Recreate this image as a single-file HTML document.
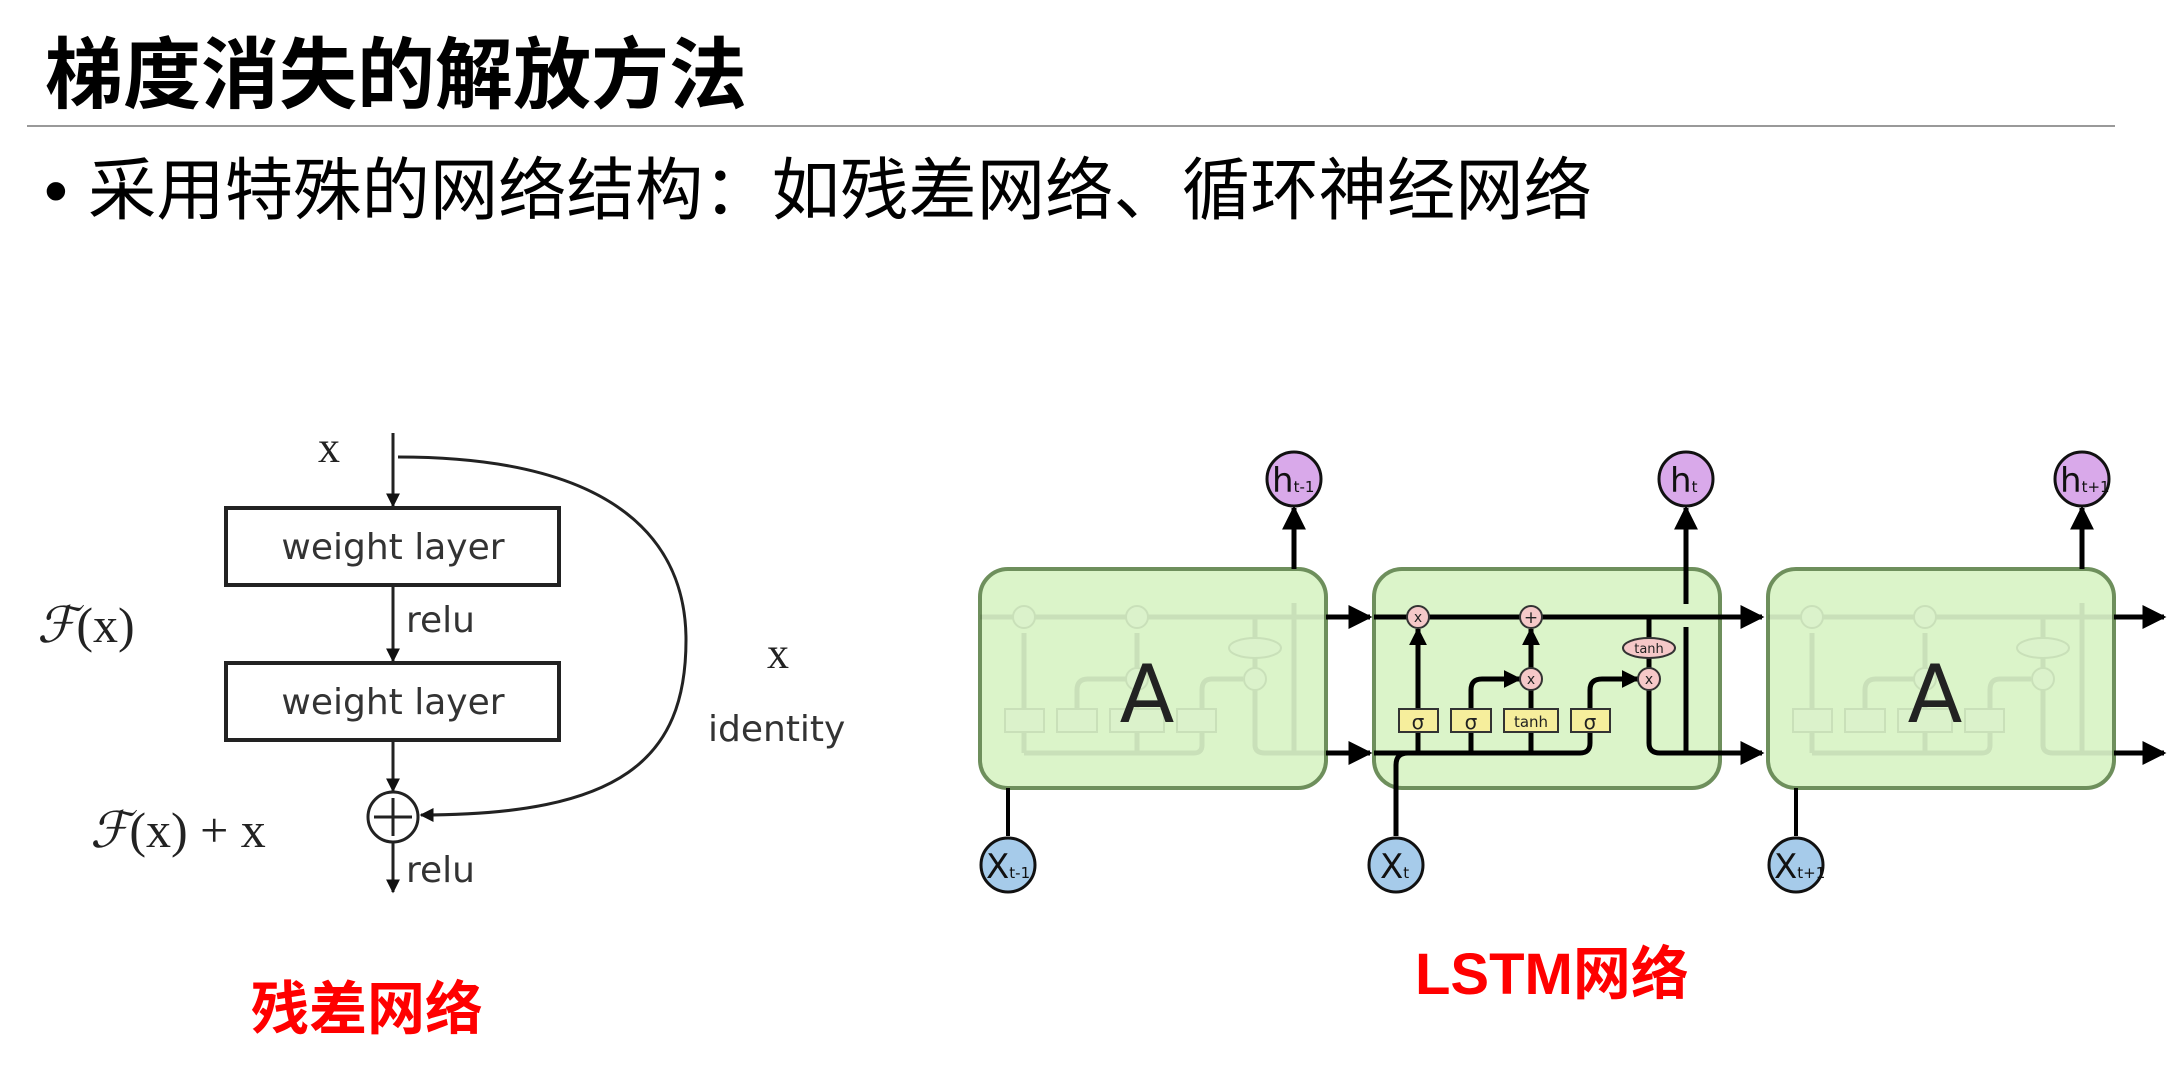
<!DOCTYPE html>
<html><head><meta charset="utf-8"><style>
html,body{margin:0;padding:0;background:#fff;}
body{width:2179px;height:1068px;overflow:hidden;position:relative;font-family:"Liberation Sans","Noto Sans CJK SC",sans-serif;}
svg{position:absolute;left:0;top:0;}
</style></head><body>
<svg width="2179" height="1068" viewBox="0 0 2179 1068" xmlns="http://www.w3.org/2000/svg">
<defs>
<marker id="ah" markerWidth="14" markerHeight="22" refX="9" refY="5" orient="auto" markerUnits="userSpaceOnUse" viewBox="0 0 10 10"><path d="M0,0 L10,5 L0,10 z" fill="#111"/></marker>
<marker id="big" viewBox="0 0 10 10" refX="9" refY="5" markerWidth="24" markerHeight="26" orient="auto" markerUnits="userSpaceOnUse"><path d="M0,0 L10,5 L0,10 z" fill="#000"/></marker>
<marker id="sm" viewBox="0 0 10 10" refX="9" refY="5" markerWidth="18" markerHeight="20" orient="auto" markerUnits="userSpaceOnUse"><path d="M0,0 L10,5 L0,10 z" fill="#000"/></marker>
</defs>

<text x="45" y="102" font-family="'Liberation Sans','Noto Sans CJK SC',sans-serif" font-size="78" font-weight="bold" fill="#000" textLength="702" lengthAdjust="spacingAndGlyphs">梯度消失的解放方法</text>
<line x1="27" y1="126" x2="2115" y2="126" stroke="#999" stroke-width="2"/>
<text x="44" y="214" font-family="'Liberation Sans','Noto Sans CJK SC',sans-serif" font-size="68" fill="#000">•</text>
<text x="88" y="214" font-family="'Liberation Sans','Noto Sans CJK SC',sans-serif" font-size="68" fill="#000" textLength="1504" lengthAdjust="spacingAndGlyphs">采用特殊的网络结构：如残差网络、循环神经网络</text>

<g stroke="#222" fill="none">
<line x1="393" y1="433" x2="393" y2="506" stroke-width="3" marker-end="url(#ah)"/>
<rect x="226" y="508" width="333" height="77" stroke-width="4" fill="#fff"/>
<line x1="393" y1="587" x2="393" y2="661" stroke-width="3" marker-end="url(#ah)"/>
<rect x="226" y="663" width="333" height="77" stroke-width="4" fill="#fff"/>
<line x1="393" y1="742" x2="393" y2="791" stroke-width="3" marker-end="url(#ah)"/>
<circle cx="393" cy="817" r="25" stroke-width="3" fill="#fff"/>
<line x1="393" y1="798" x2="393" y2="836" stroke-width="3"/>
<line x1="374" y1="817" x2="412" y2="817" stroke-width="3"/>
<line x1="393" y1="842" x2="393" y2="892" stroke-width="3" marker-end="url(#ah)"/>
<path d="M398,457 C640,457 686,560 686,640 C686,760 620,815 421,815" stroke-width="3" marker-end="url(#ah)"/>
</g>
<g font-family="'Liberation Serif',serif" fill="#222">
<text x="318" y="462" font-size="44">x</text>
<text x="37" y="642" font-size="50" font-style="italic">ℱ<tspan font-style="normal">(x)</tspan></text>
<text x="90" y="847" font-size="50" font-style="italic">ℱ<tspan font-style="normal">(x) + x</tspan></text>
<text x="767" y="668" font-size="44">x</text>
</g>
<g font-family="'DejaVu Sans','Liberation Sans',sans-serif" fill="#333" font-size="36">
<text x="393" y="559" text-anchor="middle">weight layer</text>
<text x="393" y="714" text-anchor="middle">weight layer</text>
<text x="406" y="632">relu</text>
<text x="406" y="882">relu</text>
<text x="708" y="741">identity</text>
</g>
<text x="251" y="1029" font-family="'Liberation Sans','Noto Sans CJK SC',sans-serif" font-size="58" font-weight="bold" fill="#ff0000">残差网络</text>
<text x="1415" y="994" font-family="'Liberation Sans','Noto Sans CJK SC',sans-serif" font-size="58" font-weight="bold" fill="#ff0000">LSTM网络</text>

<g fill="#dbf4c9" stroke="#6e8f5c" stroke-width="4">
<rect x="980" y="569" width="346" height="219" rx="28"/>
<rect x="1374" y="569" width="346" height="219" rx="28"/>
<rect x="1768" y="569" width="346" height="219" rx="28"/>
</g>

<g opacity="0.08" stroke="#000" fill="none" stroke-width="5">
<g>
<line x1="980" y1="617" x2="1326" y2="617"/>
<line x1="1024" y1="753" x2="1194" y2="753"/>
<path d="M1194,753 Q1202,753 1202,745 L1202,690 Q1202,679 1212,679 L1243,679"/>
<path d="M1077,732 L1077,690 Q1077,679 1088,679 L1126,679"/>
<line x1="1024" y1="753" x2="1024" y2="633"/>
<line x1="1137" y1="753" x2="1137" y2="633"/>
<path d="M1255,617 L1255,745 Q1255,753 1265,753 L1326,753"/>
<line x1="1294" y1="753" x2="1294" y2="603"/>
<g fill="#ddd" stroke-width="2"><rect x="1005" y="709" width="39" height="23"/><rect x="1057" y="709" width="40" height="23"/><rect x="1110" y="709" width="54" height="23"/><rect x="1177" y="709" width="39" height="23"/>
<circle cx="1024" cy="617" r="11"/><circle cx="1137" cy="617" r="11"/><circle cx="1137" cy="679" r="11"/><circle cx="1255" cy="679" r="11"/><ellipse cx="1255" cy="648" rx="26" ry="10"/></g>
</g>
<g transform="translate(788,0)">
<line x1="980" y1="617" x2="1326" y2="617"/>
<line x1="1024" y1="753" x2="1194" y2="753"/>
<path d="M1194,753 Q1202,753 1202,745 L1202,690 Q1202,679 1212,679 L1243,679"/>
<path d="M1077,732 L1077,690 Q1077,679 1088,679 L1126,679"/>
<line x1="1024" y1="753" x2="1024" y2="633"/>
<line x1="1137" y1="753" x2="1137" y2="633"/>
<path d="M1255,617 L1255,745 Q1255,753 1265,753 L1326,753"/>
<line x1="1294" y1="753" x2="1294" y2="603"/>
<g fill="#ddd" stroke-width="2"><rect x="1005" y="709" width="39" height="23"/><rect x="1057" y="709" width="40" height="23"/><rect x="1110" y="709" width="54" height="23"/><rect x="1177" y="709" width="39" height="23"/>
<circle cx="1024" cy="617" r="11"/><circle cx="1137" cy="617" r="11"/><circle cx="1137" cy="679" r="11"/><circle cx="1255" cy="679" r="11"/><ellipse cx="1255" cy="648" rx="26" ry="10"/></g>
</g>
</g>
<text x="1147" y="722" font-family="'DejaVu Sans','Liberation Sans',sans-serif" font-size="80" fill="#222" text-anchor="middle">A</text>
<text x="1935" y="722" font-family="'DejaVu Sans','Liberation Sans',sans-serif" font-size="80" fill="#222" text-anchor="middle">A</text>

<g stroke="#000" stroke-width="5" fill="none">
<line x1="1326" y1="617" x2="1370" y2="617" marker-end="url(#big)"/>
<line x1="1326" y1="753" x2="1370" y2="753" marker-end="url(#big)"/>
<line x1="2114" y1="617" x2="2164" y2="617" marker-end="url(#big)"/>
<line x1="2114" y1="753" x2="2164" y2="753" marker-end="url(#big)"/>
<line x1="1294" y1="569" x2="1294" y2="508" marker-end="url(#big)"/>
<line x1="2082" y1="569" x2="2082" y2="508" marker-end="url(#big)"/>
<line x1="1008" y1="788" x2="1008" y2="836" stroke-width="4"/>
<line x1="1796" y1="788" x2="1796" y2="836" stroke-width="4"/>
</g>

<g stroke="#000" stroke-width="5" fill="none">
<line x1="1374" y1="617" x2="1762" y2="617" marker-end="url(#big)"/>
<path d="M1396,836 L1396,765 Q1396,753 1408,753 L1580,753 Q1590,753 1590,743 L1590,690 Q1590,679 1602,679 L1638,679" marker-end="url(#sm)"/>
<line x1="1374" y1="753" x2="1410" y2="753"/>
<line x1="1418" y1="753" x2="1418" y2="629" marker-end="url(#sm)"/>
<path d="M1471,753 L1471,690 Q1471,679 1482,679 L1520,679" marker-end="url(#sm)"/>
<line x1="1531" y1="753" x2="1531" y2="629" marker-end="url(#sm)"/>
<path d="M1649,617 L1649,743 Q1649,753 1660,753 L1762,753" marker-end="url(#big)"/>
<line x1="1686" y1="753" x2="1686" y2="627"/>
<line x1="1686" y1="604" x2="1686" y2="508" marker-end="url(#big)"/>
</g>
<g stroke="#333" stroke-width="2">
<rect x="1399" y="709" width="39" height="23" fill="#f6ee9c"/>
<rect x="1451" y="709" width="40" height="23" fill="#f6ee9c"/>
<rect x="1504" y="709" width="54" height="23" fill="#f6ee9c"/>
<rect x="1571" y="709" width="39" height="23" fill="#f6ee9c"/>
<circle cx="1418" cy="617" r="11" fill="#f5c8c8"/>
<circle cx="1531" cy="617" r="11" fill="#f5c8c8"/>
<circle cx="1531" cy="679" r="11" fill="#f5c8c8"/>
<circle cx="1649" cy="679" r="11" fill="#f5c8c8"/>
<ellipse cx="1649" cy="648" rx="26" ry="10" fill="#f5c8c8"/>
</g>
<g font-family="'DejaVu Sans','Liberation Sans',sans-serif" fill="#222" text-anchor="middle">
<text x="1418" y="729" font-size="20">σ</text>
<text x="1471" y="729" font-size="20">σ</text>
<text x="1531" y="727" font-size="15">tanh</text>
<text x="1590" y="729" font-size="20">σ</text>
<text x="1418" y="622" font-size="14">x</text>
<text x="1531" y="623" font-size="17">+</text>
<text x="1531" y="684" font-size="14">x</text>
<text x="1649" y="684" font-size="14">x</text>
<text x="1649" y="653" font-size="13">tanh</text>
</g>

<g stroke="#111" stroke-width="3">
<circle cx="1294" cy="479" r="27" fill="#d9a9ea"/>
<circle cx="1686" cy="479" r="27" fill="#d9a9ea"/>
<circle cx="2082" cy="479" r="27" fill="#d9a9ea"/>
<circle cx="1008" cy="865" r="27" fill="#a6cbea"/>
<circle cx="1396" cy="865" r="27" fill="#a6cbea"/>
<circle cx="1796" cy="865" r="27" fill="#a6cbea"/>
</g>
<g font-family="'DejaVu Sans','Liberation Sans',sans-serif" fill="#111">
<text x="1272" y="492" font-size="34">h<tspan font-size="15">t-1</tspan></text>
<text x="1670" y="492" font-size="34">h<tspan font-size="15">t</tspan></text>
<text x="2060" y="492" font-size="34">h<tspan font-size="15">t+1</tspan></text>
<text x="986" y="878" font-size="34">X<tspan font-size="15">t-1</tspan></text>
<text x="1380" y="878" font-size="34">X<tspan font-size="15">t</tspan></text>
<text x="1774" y="878" font-size="34">X<tspan font-size="15">t+1</tspan></text>
</g>
</svg>
</body></html>
